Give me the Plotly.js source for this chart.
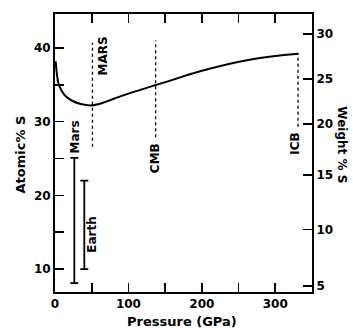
<!DOCTYPE html>
<html>
<head>
<meta charset="utf-8">
<script src="https://cdn.plot.ly/plotly-3.0.1.min.js"></script>
<style>html,body{margin:0;padding:0;background:#fff}#chart{width:353px;height:328px}</style>
</head>
<body>
<div id="chart"></div>
<script>
// Solubility curve: pressure (GPa) vs atomic % S
const curvePressure = [1, 2.5, 5, 9, 15, 24, 35, 48, 60, 80, 100, 135, 155, 200, 265, 331];
const curveAtomicS  = [38.2, 36.5, 35.1, 34.2, 33.4, 32.8, 32.4, 32.2, 32.4, 33.1, 33.8, 34.9, 35.5, 36.9, 38.4, 39.2];

// Vertical dotted reference lines
const refNames    = ['MARS', 'CMB', 'ICB'];
const refPressure = [51, 137, 331];
const refTop      = [40.7, 41.0, 39.3];
const refBottom   = [26.6, 27.9, 29.3];

// Core sulfur estimate ranges
const rangeNames    = ['Mars', 'Earth'];
const rangePressure = [26.3, 39.9];
const rangeLow      = [8.1, 10.0];
const rangeHigh     = [25.1, 22.0];

// Axis ticks
const xTickVals = [0, 50, 100, 150, 200, 250, 300];
const xTickText = ['0', '', '100', '', '200', '', '300'];
const yTickVals = [10, 15, 20, 25, 30, 35, 40];
const yTickText = ['10', '', '20', '', '30', '', '40'];
// weight % S labels on right axis, placed at equivalent atomic % S
const wtTickText = ['5', '10', '15', '20', '25', '30'];
const wtTickPos  = [7.7, 15.4, 22.8, 29.7, 35.8, 41.9];

const FONT = 'DejaVu Sans, Arial, sans-serif';
const f = (s) => ({family: FONT, size: s, color: '#000', weight: 'bold'});

const traces = [];
traces.push({
  x: curvePressure, y: curveAtomicS, type: 'scatter', mode: 'lines',
  line: {color: '#000', width: 2, shape: 'spline', smoothing: 1.2}, hoverinfo: 'skip'
});
refPressure.forEach((p, i) => {
  traces.push({
    x: [p, p], y: [refBottom[i], refTop[i]], type: 'scatter', mode: 'lines',
    line: {color: '#000', width: 1.3, dash: 'dot'}, hoverinfo: 'skip'
  });
});
traces.push({
  x: rangePressure, y: rangeLow, type: 'scatter', mode: 'markers',
  marker: {size: 1, color: '#000'},
  error_y: {type: 'data', symmetric: false,
            array: rangeHigh.map((h, i) => h - rangeLow[i]),
            arrayminus: rangeLow.map(() => 0),
            color: '#000', thickness: 1.8, width: 4},
  hoverinfo: 'skip'
});
// invisible trace to activate right axis
traces.push({x: [0], y: [20], yaxis: 'y2', mode: 'markers', marker: {opacity: 0}, hoverinfo: 'skip', type: 'scatter'});

const annotations = [];
refNames.forEach((n, i) => {
  if (n === 'MARS') {
    annotations.push({x: refPressure[i], y: 38.9, xref: 'x', yref: 'y', text: n, showarrow: false,
      textangle: -90, xshift: 11, font: f(12)});
  } else if (n === 'CMB') {
    annotations.push({x: refPressure[i], y: 25.0, xref: 'x', yref: 'y', text: n, showarrow: false,
      textangle: -90, xshift: -1, font: f(12)});
  } else {
    annotations.push({x: refPressure[i], y: 27.0, xref: 'x', yref: 'y', text: n, showarrow: false,
      textangle: -90, xshift: -3, font: f(12)});
  }
});
annotations.push({x: rangePressure[0], y: 27.9, xref: 'x', yref: 'y', text: rangeNames[0], showarrow: false,
  textangle: -90, xshift: 1, font: f(12)});
annotations.push({x: rangePressure[1], y: 14.7, xref: 'x', yref: 'y', text: rangeNames[1], showarrow: false,
  textangle: -90, xshift: 8, font: f(12)});
annotations.push({x: 0.495, y: -0.105, xref: 'paper', yref: 'paper', text: 'Pressure (GPa)', showarrow: false,
  xanchor: 'center', yanchor: 'middle', font: f(13)});
annotations.push({x: -0.136, y: 0.495, xref: 'paper', yref: 'paper', text: 'Atomic% S', showarrow: false,
  xanchor: 'center', yanchor: 'middle', textangle: -90, font: f(13)});
annotations.push({x: 1.118, y: 0.53, xref: 'paper', yref: 'paper', text: 'Weight % S', showarrow: false,
  xanchor: 'center', yanchor: 'middle', textangle: 90, font: f(12)});

const layout = {
  width: 353, height: 328,
  margin: {l: 55, r: 41, t: 14, b: 36},
  paper_bgcolor: '#fff', plot_bgcolor: '#fff',
  showlegend: false,
  xaxis: {
    range: [0, 350], showgrid: false, zeroline: false,
    showline: true, linecolor: '#000', linewidth: 2, mirror: 'ticks',
    ticks: 'inside', ticklen: 9, tickwidth: 1.6, tickcolor: '#000',
    tickvals: xTickVals, ticktext: xTickText, tickfont: f(12)
  },
  yaxis: {
    range: [6.9, 44.6], showgrid: false, zeroline: false,
    showline: true, linecolor: '#000', linewidth: 2,
    ticks: 'inside', ticklen: 9, tickwidth: 1.6, tickcolor: '#000',
    tickvals: yTickVals, ticktext: yTickText, tickfont: f(12)
  },
  yaxis2: {
    overlaying: 'y', side: 'right', range: [6.9, 44.6], showgrid: false, zeroline: false,
    showline: true, linecolor: '#000', linewidth: 2,
    ticks: 'inside', ticklen: 9, tickwidth: 1.6, tickcolor: '#000',
    tickvals: wtTickPos, ticktext: wtTickText, tickfont: f(12)
  },
  annotations: annotations
};

Plotly.newPlot('chart', traces, layout, {staticPlot: true, displayModeBar: false});
</script>
</body>
</html>
